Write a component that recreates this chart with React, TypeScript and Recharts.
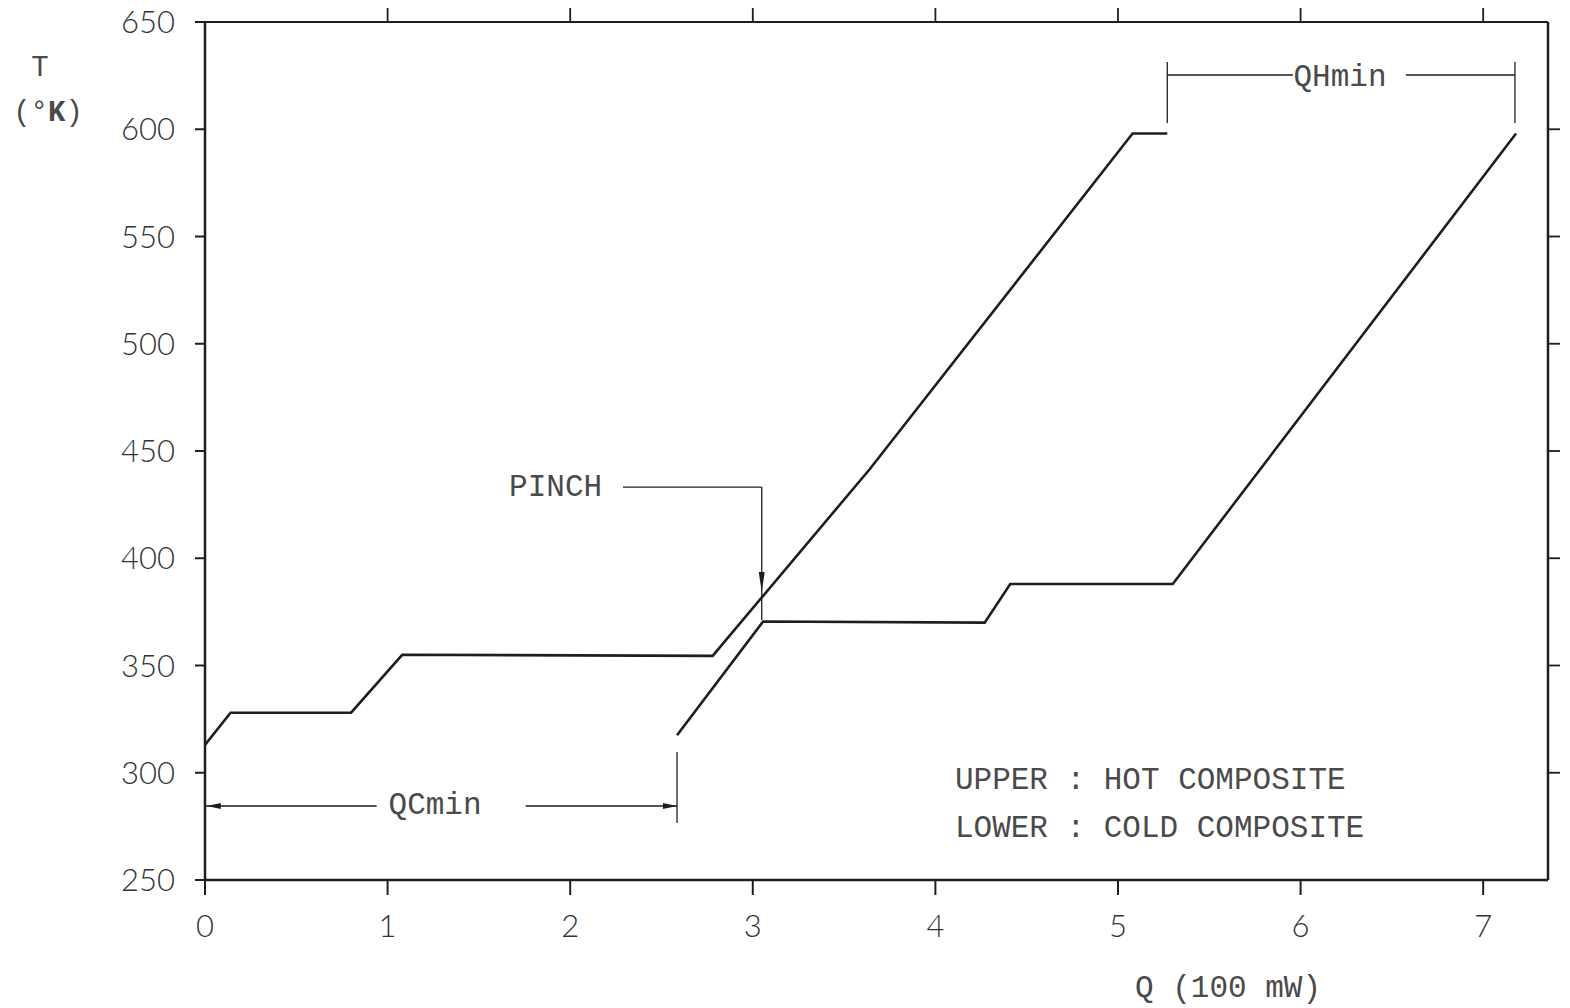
import React from 'react';
import { LineChart, Line, XAxis, YAxis, ReferenceLine, ReferenceDot } from 'recharts';

// Hot composite curve (upper)
const HOT_Q = [0, 0.14, 0.8, 1.08, 2.78, 3.64, 5.08, 5.27];
const HOT_T = [313, 328, 328, 355, 354.5, 441.5, 598, 598];
// Cold composite curve (lower)
const COLD_Q = [2.585, 3.056, 4.27, 4.41, 5.3, 7.18];
const COLD_T = [317.5, 370.5, 370, 388, 388, 598];

const Q_TICKS = [0, 1, 2, 3, 4, 5, 6, 7];
const Q_TOP_TICKS = [1, 2, 3, 4, 5, 6, 7];
const T_TICKS = [250, 300, 350, 400, 450, 500, 550, 600, 650];
const T_RIGHT_TICKS = [300, 350, 400, 450, 500, 550, 600];
const Q_DOMAIN = [0, 7.355];
const T_DOMAIN = [250, 650];

// annotation anchors (data coordinates)
const QH_RANGE = [5.27, 7.174];
const QH_GAP = [5.958, 6.577];
const QH_T = 625.3;
const QH_TICK_T = [631.4, 602.9];
const QH_TEXT = { q: 6.216, t: 623.9, text: 'QHmin' };

const QC_RANGE = [0, 2.585];
const QC_GAP = [0.94, 1.756];
const QC_T = 284.5;
const QC_TICK_T = [309.7, 276.6];
const QC_TEXT = { q: 1.26, t: 284.5, text: 'QCmin' };

const PINCH_LINE_Q = [2.289, 3.049];
const PINCH_T = 433.2;
const PINCH_END_T = 371.2;
const PINCH_TIP_T = 384.3;
const PINCH_TEXT = { q: 1.92, t: 433.2, text: 'PINCH' };

const LEGEND = [
  { q: 4.107, t: 296.2, text: 'UPPER : HOT COMPOSITE' },
  { q: 4.107, t: 274.2, text: 'LOWER : COLD COMPOSITE' },
];

const hotData = HOT_Q.map((q, i) => ({ q, t: HOT_T[i] }));
const coldData = COLD_Q.map((q, i) => ({ q, t: COLD_T[i] }));

const INK = '#1e1e1e';
const TYPE_FONT = "'Liberation Mono', 'Courier New', monospace";
const TICK_FONT = "Lato, 'DejaVu Sans', sans-serif";
const TYPE_FILL = '#4a4a4a';

const textShape = (text: string, anchor: 'start' | 'middle') => (p: any) => (
  <text
    x={p.cx}
    y={p.cy}
    textAnchor={anchor}
    dominantBaseline="central"
    fontFamily={TYPE_FONT}
    fontSize={31}
    fill={TYPE_FILL}
  >
    {text}
  </text>
);

const arrowShape = (dir: 'left' | 'right' | 'down', len: number, hw: number) => (p: any) => {
  const { cx, cy } = p;
  let d = '';
  if (dir === 'left') d = `M${cx},${cy} L${cx + len},${cy - hw} L${cx + len},${cy + hw} Z`;
  if (dir === 'right') d = `M${cx},${cy} L${cx - len},${cy - hw} L${cx - len},${cy + hw} Z`;
  if (dir === 'down') d = `M${cx},${cy} L${cx - hw},${cy - len} L${cx + hw},${cy - len} Z`;
  return <path d={d} fill={INK} stroke="none" />;
};

const yTitle = (props: any) => {
  const vb = props.viewBox;
  return (
    <g fontFamily={TYPE_FONT} fill={TYPE_FILL}>
      <text x={vb.x + 32} y={vb.y + 46} textAnchor="middle" dominantBaseline="central" fontSize={29}>
        T
      </text>
      <text x={vb.x + 40} y={vb.y + 91} textAnchor="middle" dominantBaseline="central" fontSize={29}>
        (°<tspan fontWeight="bold">K</tspan>)
      </text>
    </g>
  );
};

const xTitle = (props: any) => {
  const vb = props.viewBox;
  return (
    <text
      x={vb.x + 1023}
      y={vb.y + 108}
      textAnchor="middle"
      dominantBaseline="central"
      fontFamily={TYPE_FONT}
      fontSize={31}
      fill={TYPE_FILL}
    >
      Q (100 mW)
    </text>
  );
};

const tickStyle = { fontFamily: TICK_FONT, fontWeight: 300, fontSize: 31, fill: '#333' };
const thin = { stroke: INK, strokeWidth: 1.3 };

export default function App() {
  return (
    <div style={{ position: 'absolute', left: 0, top: 0, width: 1570, height: 1008, background: '#fff', overflow: 'hidden' }}>
      <style>{'body{overflow:hidden}'}</style>
      <LineChart width={1570} height={1008} margin={{ top: 8, right: 8, bottom: 68, left: 8 }}>
        <XAxis
          xAxisId={0}
          dataKey="q"
          type="number"
          domain={Q_DOMAIN}
          ticks={Q_TICKS}
          allowDataOverflow
          height={60}
          tickSize={15}
          tickMargin={20}
          axisLine={{ stroke: INK, strokeWidth: 2.5 }}
          tickLine={{ stroke: INK, strokeWidth: 2 }}
          tick={tickStyle}
          label={{ content: xTitle }}
        />
        <XAxis
          xAxisId="top"
          orientation="top"
          dataKey="q"
          type="number"
          domain={Q_DOMAIN}
          ticks={Q_TOP_TICKS}
          allowDataOverflow
          height={14}
          tickSize={14}
          tickFormatter={() => ''}
          axisLine={{ stroke: INK, strokeWidth: 2 }}
          tickLine={{ stroke: INK, strokeWidth: 1.8 }}
        />
        <YAxis
          yAxisId={0}
          dataKey="t"
          type="number"
          domain={T_DOMAIN}
          ticks={T_TICKS}
          allowDataOverflow
          width={197}
          tickSize={10}
          tickMargin={20}
          axisLine={{ stroke: INK, strokeWidth: 2.5 }}
          tickLine={{ stroke: INK, strokeWidth: 2 }}
          tick={tickStyle}
          label={{ content: yTitle }}
        />
        <YAxis
          yAxisId="right"
          orientation="right"
          dataKey="t"
          type="number"
          domain={T_DOMAIN}
          ticks={T_RIGHT_TICKS}
          allowDataOverflow
          width={14}
          tickSize={12}
          tickFormatter={() => ''}
          axisLine={{ stroke: INK, strokeWidth: 2.5 }}
          tickLine={{ stroke: INK, strokeWidth: 1.8 }}
        />

        <Line data={hotData} dataKey="t" type="linear" stroke={INK} strokeWidth={2.6} dot={false} isAnimationActive={false} />
        <Line data={coldData} dataKey="t" type="linear" stroke={INK} strokeWidth={2.6} dot={false} isAnimationActive={false} />

        {/* QHmin bracket */}
        <ReferenceLine segment={[{ x: QH_RANGE[0], y: QH_T }, { x: QH_GAP[0], y: QH_T }]} {...thin} />
        <ReferenceLine segment={[{ x: QH_GAP[1], y: QH_T }, { x: QH_RANGE[1], y: QH_T }]} {...thin} />
        <ReferenceLine segment={[{ x: QH_RANGE[0], y: QH_TICK_T[0] }, { x: QH_RANGE[0], y: QH_TICK_T[1] }]} {...thin} />
        <ReferenceLine segment={[{ x: QH_RANGE[1], y: QH_TICK_T[0] }, { x: QH_RANGE[1], y: QH_TICK_T[1] }]} {...thin} />
        <ReferenceDot x={QH_TEXT.q} y={QH_TEXT.t} r={1} shape={textShape(QH_TEXT.text, 'middle')} />

        {/* QCmin bracket */}
        <ReferenceLine segment={[{ x: QC_RANGE[0], y: QC_T }, { x: QC_GAP[0], y: QC_T }]} {...thin} />
        <ReferenceLine segment={[{ x: QC_GAP[1], y: QC_T }, { x: QC_RANGE[1], y: QC_T }]} {...thin} />
        <ReferenceLine segment={[{ x: QC_RANGE[1], y: QC_TICK_T[0] }, { x: QC_RANGE[1], y: QC_TICK_T[1] }]} {...thin} />
        <ReferenceDot x={QC_RANGE[0] + 0.01} y={QC_T} r={1} shape={arrowShape('left', 14, 3)} />
        <ReferenceDot x={QC_RANGE[1]} y={QC_T} r={1} shape={arrowShape('right', 14, 3)} />
        <ReferenceDot x={QC_TEXT.q} y={QC_TEXT.t} r={1} shape={textShape(QC_TEXT.text, 'middle')} />

        {/* PINCH pointer */}
        <ReferenceLine segment={[{ x: PINCH_LINE_Q[0], y: PINCH_T }, { x: PINCH_LINE_Q[1], y: PINCH_T }]} {...thin} />
        <ReferenceLine segment={[{ x: PINCH_LINE_Q[1], y: PINCH_T }, { x: PINCH_LINE_Q[1], y: PINCH_END_T }]} {...thin} />
        <ReferenceDot x={PINCH_LINE_Q[1]} y={PINCH_TIP_T} r={1} shape={arrowShape('down', 20, 3)} />
        <ReferenceDot x={PINCH_TEXT.q} y={PINCH_TEXT.t} r={1} shape={textShape(PINCH_TEXT.text, 'middle')} />

        {/* legend text */}
        {LEGEND.map((l) => (
          <ReferenceDot key={l.text} x={l.q} y={l.t} r={1} shape={textShape(l.text, 'start')} />
        ))}
      </LineChart>
    </div>
  );
}
